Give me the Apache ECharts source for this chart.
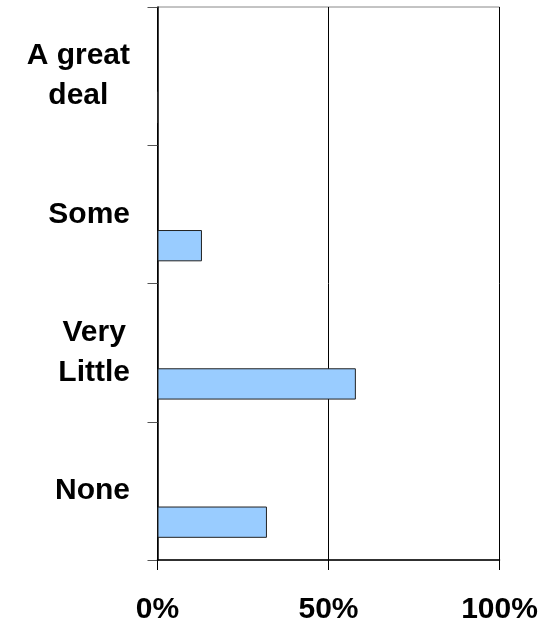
<!DOCTYPE html>
<html>
<head>
<meta charset="utf-8">
<script src="https://cdn.jsdelivr.net/npm/echarts@6/dist/echarts.min.js"></script>
<style>
  html, body { margin: 0; padding: 0; background: #fff; }
  #chart { width: 546px; height: 625px; }
</style>
</head>
<body>
<div id="chart"></div>
<script>
const categories = ['A great\ndeal', 'Some', 'Very\nLittle', 'None'];
const values = [0, 13, 58, 32];
const xTicks = [0, 50, 100];

const chart = echarts.init(document.getElementById('chart'), null, { renderer: 'canvas' });
const font = "'Liberation Sans', Arial, sans-serif";

const emptySeries = categories.map(() => null);

chart.setOption({
  animation: false,
  backgroundColor: '#ffffff',
  grid: {
    left: 157.5, right: 46.5, top: 7, bottom: 63.3,
    show: true, borderColor: '#888888', borderWidth: 1, backgroundColor: 'transparent'
  },
  xAxis: {
    type: 'value',
    min: xTicks[0], max: xTicks[xTicks.length - 1], interval: 50,
    axisLine: { show: true, lineStyle: { color: '#000', width: 1.5 } },
    axisTick: { show: true, length: 10, lineStyle: { color: '#000', width: 1 } },
    splitLine: { show: true, lineStyle: { color: '#000', width: 1 } },
    axisLabel: {
      formatter: '{value}%', margin: 35,
      fontFamily: font, fontWeight: 'bold', fontSize: 30, color: '#000'
    }
  },
  yAxis: {
    type: 'category',
    data: categories,
    inverse: true,
    axisLine: { show: true, lineStyle: { color: '#000', width: 1.5 } },
    axisTick: { show: true, length: 10, lineStyle: { color: '#555', width: 1 } },
    axisLabel: {
      margin: 27.5, align: 'right', lineHeight: 40,
      fontFamily: font, fontWeight: 'bold', fontSize: 30, color: '#000',
      formatter: function (v) {
        return v.split('\n').map(function (s) { return '{c|' + s + '}'; }).join('\n');
      },
      rich: {
        c: {
          align: 'center', lineHeight: 40,
          fontFamily: font, fontWeight: 'bold', fontSize: 30, color: '#000'
        }
      }
    }
  },
  series: [
    { type: 'bar', data: emptySeries, barWidth: 31.3, barGap: '0%' },
    { type: 'bar', data: emptySeries, barWidth: 31.3, barGap: '0%' },
    {
      type: 'bar', data: values, barWidth: 31.3, barGap: '0%',
      itemStyle: { color: '#99CCFF', borderColor: '#222', borderWidth: 1 }
    }
  ]
});
</script>
</body>
</html>
